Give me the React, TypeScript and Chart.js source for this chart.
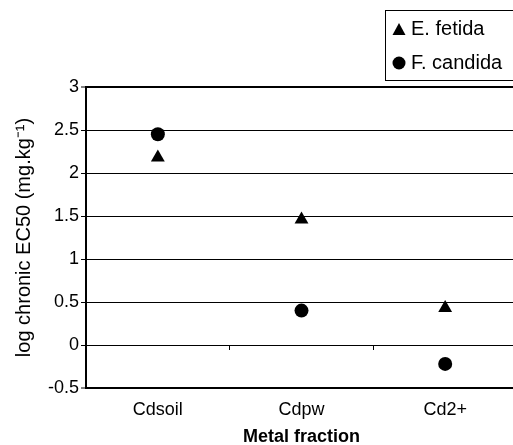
import React, { useEffect, useRef } from 'react';
import { Chart, registerables } from 'chart.js';

Chart.register(...registerables);

const categories = ['Cdsoil', 'Cdpw', 'Cd2+'];
const seriesNames = ['E. fetida', 'F. candida'];
const eFetida = [2.18, 1.46, 0.43];
const fCandida = [2.45, 0.4, -0.22];
const yTicks = [-0.5, 0, 0.5, 1, 1.5, 2, 2.5, 3];
const yTitle = 'log chronic EC50 (mg.kg\u207B\u00B9)';
const xTitle = 'Metal fraction';

const FONT = "'Liberation Sans', Arial, Helvetica, sans-serif";

const boxLegend = {
  id: 'boxLegend',
  afterDraw(chart: any) {
    const ctx = chart.ctx;
    ctx.save();
    ctx.strokeStyle = '#000';
    ctx.lineWidth = 1;
    ctx.strokeRect(385.5, 10.5, 170, 70);
    const rows = [29.5, 63];
    chart.data.datasets.forEach((ds: any, i: number) => {
      const y = rows[i];
      const x = 399;
      ctx.fillStyle = '#000';
      ctx.beginPath();
      if (ds.pointStyle === 'triangle') {
        ctx.moveTo(x, y - 6.5);
        ctx.lineTo(x + 6.5, y + 5.5);
        ctx.lineTo(x - 6.5, y + 5.5);
        ctx.closePath();
      } else {
        ctx.arc(x, y, 6.5, 0, Math.PI * 2);
      }
      ctx.fill();
      ctx.font = `20px ${FONT}`;
      ctx.textBaseline = 'middle';
      ctx.textAlign = 'left';
      ctx.fillText(ds.label, 411, y);
    });
    ctx.restore();
  },
};

export default function App() {
  const ref = useRef<HTMLCanvasElement | null>(null);

  useEffect(() => {
    if (!ref.current) return;
    const chart = new Chart(ref.current, {
      type: 'line',
      data: {
        labels: categories,
        datasets: [
          {
            label: seriesNames[0],
            data: eFetida,
            showLine: false,
            pointStyle: 'triangle',
            pointRadius: 8,
            pointHoverRadius: 8,
            backgroundColor: '#000',
            borderColor: '#000',
            pointBorderWidth: 0,
          },
          {
            label: seriesNames[1],
            data: fCandida,
            showLine: false,
            pointStyle: 'circle',
            pointRadius: 7,
            pointHoverRadius: 7,
            backgroundColor: '#000',
            borderColor: '#000',
            pointBorderWidth: 0,
          },
        ],
      },
      options: {
        responsive: false,
        animation: false,
        events: [],
        layout: { padding: { top: 87, right: 13, left: 10, bottom: 7.6 } },
        plugins: {
          legend: { display: false },
          tooltip: { enabled: false },
        },
        scales: {
          x: {
            type: 'category',
            position: 'bottom',
            offset: true,
            grid: { display: false, drawTicks: false },
            border: { display: false },
            ticks: {
              color: '#000',
              padding: 11,
              font: { family: FONT, size: 18 },
              maxRotation: 0,
            },
            title: {
              display: true,
              text: xTitle,
              color: '#000',
              font: { family: FONT, size: 18, weight: 'bold', lineHeight: 0.6 },
              padding: { top: 0, bottom: 0 },
            },
          },
          x2: {
            type: 'category',
            labels: categories,
            position: { y: 0 },
            offset: true,
            grid: {
              offset: true,
              drawOnChartArea: false,
              drawTicks: true,
              tickLength: 5,
              tickColor: '#000',
              tickWidth: 1,
            },
            border: { display: false },
            ticks: { display: false },
          },
          y: {
            type: 'linear',
            min: -0.5,
            max: 3,
            afterBuildTicks: (s: any) => {
              s.ticks = yTicks.map((v) => ({ value: v }));
            },
            grid: {
              color: '#000',
              lineWidth: (c: any) =>
                c.tick && (c.tick.value === 3 || c.tick.value === -0.5) ? 2 : 1,
              drawTicks: true,
              tickLength: 5,
              tickColor: '#000',
              tickWidth: 1,
            },
            border: { display: true, color: '#000', width: 2 },
            ticks: {
              color: '#000',
              padding: 2,
              font: { family: FONT, size: 18 },
              callback: (v: any) => String(v),
            },
            title: {
              display: true,
              text: yTitle,
              color: '#000',
              font: { family: FONT, size: 20 },
              padding: { top: 2, bottom: 10 },
            },
          },
        },
      },
      plugins: [boxLegend],
    });
    return () => chart.destroy();
  }, []);

  return (
    <div
      style={{
        position: 'absolute',
        left: 0,
        top: 0,
        width: 513,
        height: 445,
        overflow: 'hidden',
        background: '#fff',
      }}
    >
      <canvas
        ref={ref}
        width={530}
        height={450}
        style={{ display: 'block', width: 530, height: 450 }}
      />
    </div>
  );
}
